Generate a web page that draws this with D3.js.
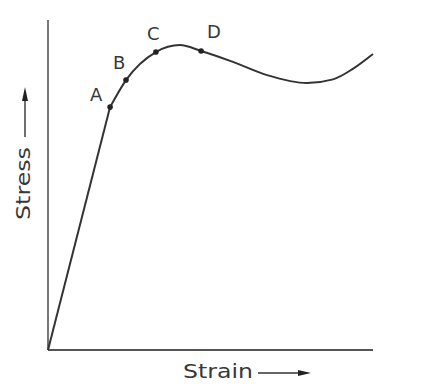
<!DOCTYPE html>
<html>
<head>
<meta charset="utf-8">
<script src="https://cdn.jsdelivr.net/npm/d3@7"></script>
<style>
  html, body { margin: 0; padding: 0; background: #fff; }
  svg { display: block; }
  text { font-family: "DejaVu Sans", sans-serif; fill: #383838; }
</style>
</head>
<body>
<svg id="chart" width="428" height="387"></svg>
<script>
// Stress-strain curve (arbitrary units, strain 0-10, stress 0-10)
const strain = [0, 1.91, 2.40, 3.32, 4.06, 4.71, 5.69, 6.74, 7.97, 8.77, 9.38, 10.0];
const stress = [0, 7.36, 8.18, 9.03, 9.24, 9.06, 8.73, 8.33, 8.09, 8.20, 8.52, 8.97];

// Marked points on the curve
const pointLabels = ["A", "B", "C", "D"];
const pointIndex  = [1, 2, 3, 5];

const axisTitles = { x: "Strain", y: "Stress" };

const svg = d3.select("#chart");
const x = d3.scaleLinear().domain([0, 10]).range([48, 373]);
const y = d3.scaleLinear().domain([0, 10]).range([350, 20]);

const ink = "#333";

// Axes: plain lines with no ticks
svg.append("line")
  .attr("x1", x(0)).attr("x2", x(0))
  .attr("y1", y(0)).attr("y2", y(10))
  .attr("stroke", "#555").attr("stroke-width", 1.6);
svg.append("line")
  .attr("x1", x(0)).attr("x2", x(10))
  .attr("y1", y(0)).attr("y2", y(0))
  .attr("stroke", "#555").attr("stroke-width", 1.8);

const pts = strain.map((s, i) => [s, stress[i]]);

// Elastic region: straight line from the origin to A
svg.append("path")
  .attr("d", d3.line().x(d => x(d[0])).y(d => y(d[1]))(pts.slice(0, 2)))
  .attr("fill", "none").attr("stroke", ink).attr("stroke-width", 2);

// Plastic region: smooth curve from A onward
svg.append("path")
  .attr("d", d3.line().curve(d3.curveMonotoneX)
    .x(d => x(d[0])).y(d => y(d[1]))(pts.slice(1)))
  .attr("fill", "none").attr("stroke", ink).attr("stroke-width", 2);

// Point markers and letters
const labelOffset = { A: [-20, -6], B: [-13, -11], C: [-9, -12], D: [6, -13] };
pointIndex.forEach((idx, k) => {
  const px = x(strain[idx]), py = y(stress[idx]);
  svg.append("circle").attr("cx", px).attr("cy", py).attr("r", 2.8).attr("fill", "#222");
  const name = pointLabels[k];
  svg.append("text")
    .attr("x", px + labelOffset[name][0])
    .attr("y", py + labelOffset[name][1])
    .attr("font-size", 18)
    .text(name);
});

// x-axis title with arrow
svg.append("text")
  .attr("x", 183).attr("y", 378)
  .attr("font-size", 19)
  .attr("textLength", 70).attr("lengthAdjust", "spacingAndGlyphs")
  .text(axisTitles.x);
svg.append("line")
  .attr("x1", 258).attr("x2", 302).attr("y1", 373).attr("y2", 373)
  .attr("stroke", ink).attr("stroke-width", 1.4);
svg.append("path")
  .attr("d", "M298,370 L311,373 L298,376 Z").attr("fill", "#222");

// y-axis title with arrow
svg.append("text")
  .attr("transform", "translate(30,220) rotate(-90)")
  .attr("font-size", 19)
  .attr("textLength", 73).attr("lengthAdjust", "spacingAndGlyphs")
  .text(axisTitles.y);
svg.append("line")
  .attr("x1", 25).attr("x2", 25).attr("y1", 137).attr("y2", 97)
  .attr("stroke", ink).attr("stroke-width", 1.4);
svg.append("path")
  .attr("d", "M22,101 L25,87 L28,101 Z").attr("fill", "#222");
</script>
</body>
</html>
